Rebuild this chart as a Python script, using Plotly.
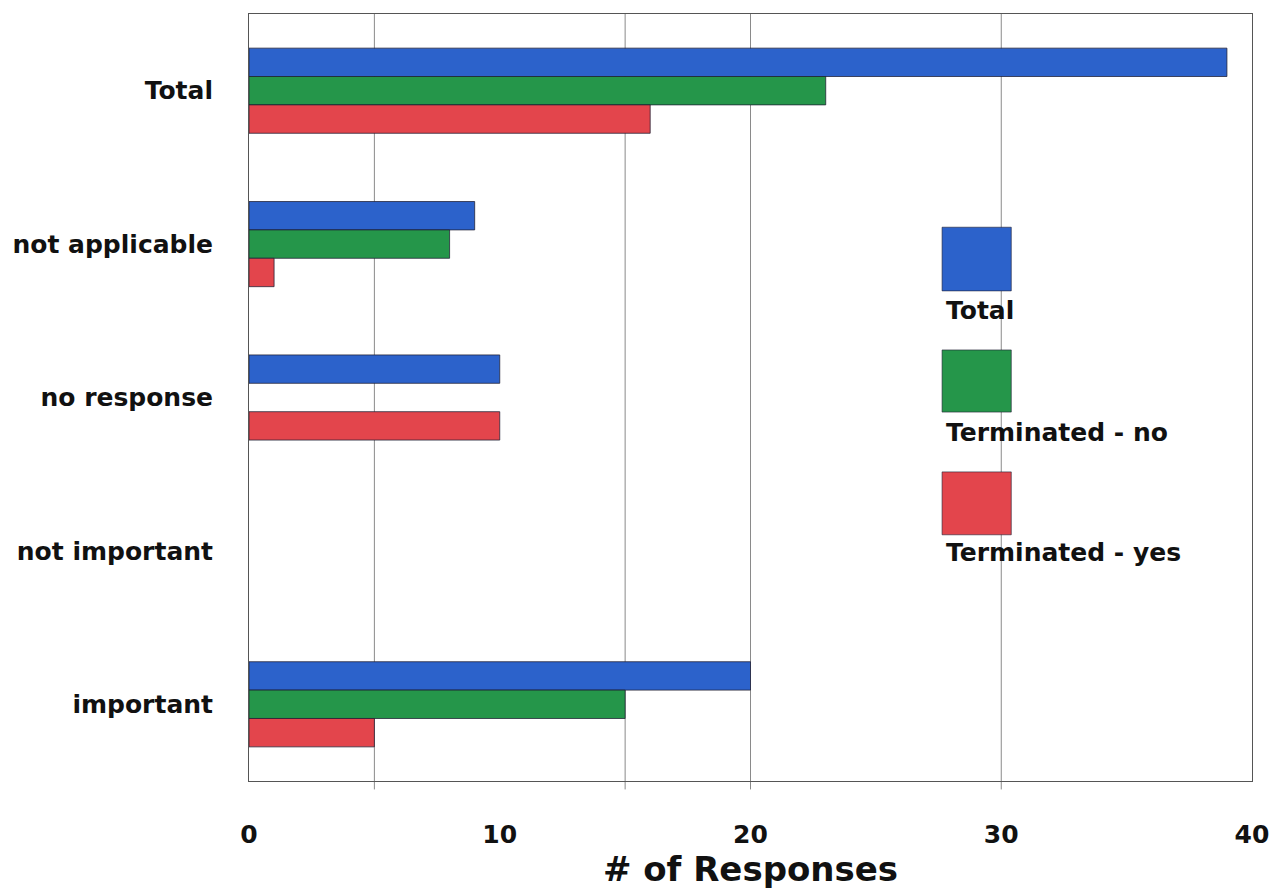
import plotly.graph_objects as go

# Response categories, listed top to bottom
categories = ["Total", "not applicable", "no response", "not important", "important"]

# Counts per series
series_names = ["Total", "Terminated - no", "Terminated - yes"]
total_counts = [39, 9, 10, 0, 20]
term_no_counts = [23, 8, 0, 0, 15]
term_yes_counts = [16, 1, 10, 0, 5]

x_ticks = [0, 10, 20, 30, 40]
grid_at = [5, 15, 20, 30]

colors = ["#2c62cb", "#25964a", "#e3454c"]
FONT = "DejaVu Sans"
BOLD = dict(family=FONT, color="#111", weight="bold")

fig = go.Figure()
for name, vals, col in zip(series_names, [total_counts, term_no_counts, term_yes_counts], colors):
    # no outline on empty bars so nothing is drawn for zero counts
    widths = [1 if v else 0 for v in vals]
    fig.add_trace(go.Bar(
        y=categories, x=vals, name=name, orientation="h",
        marker=dict(color=col, line=dict(color="rgba(30,30,50,0.75)", width=widths)),
        showlegend=False,
    ))

# vertical grid lines with small ticks below the axis
for g in grid_at:
    fig.add_shape(type="line", xref="x", yref="paper", x0=g, x1=g, y0=-0.011, y1=1,
                  line=dict(color="#8a8a8a", width=1), layer="below")

# legend drawn as swatches with their labels underneath
sw_x0, sw_x1 = 0.691, 0.760
swatch_rows = [(0.639, 0.722, 0.614), (0.481, 0.562, 0.455), (0.321, 0.403, 0.298)]
for name, col, (y0, y1, ty) in zip(series_names, colors, swatch_rows):
    fig.add_shape(type="rect", xref="paper", yref="paper", x0=sw_x0, x1=sw_x1, y0=y0, y1=y1,
                  fillcolor=col, line=dict(color="rgba(30,30,50,0.6)", width=1))
    fig.add_annotation(xref="paper", yref="paper", x=0.693, y=ty, text=name,
                       showarrow=False, xanchor="left", yanchor="middle",
                       font=dict(BOLD, size=25))

fig.update_layout(
    width=1269, height=894,
    margin=dict(l=249, r=17, t=14, b=113),
    paper_bgcolor="white", plot_bgcolor="white",
    barmode="group", bargap=0.445, bargroupgap=0,
    font=dict(family=FONT, color="#111"),
    xaxis=dict(
        range=[0, 40], tickvals=x_ticks, ticks="", showgrid=False, zeroline=False,
        showline=True, linecolor="#555", linewidth=1, mirror=True, automargin=False,
        tickfont=dict(BOLD, size=25), ticklabeloverflow="allow",
        ticklabelstandoff=31,
        title=dict(text="# of Responses", font=dict(BOLD, size=34), standoff=8),
    ),
    yaxis=dict(
        categoryorder="array", categoryarray=categories, autorange="reversed",
        ticks="", showgrid=False, zeroline=False,
        showline=True, linecolor="#555", linewidth=1, mirror=True, automargin=False,
        tickfont=dict(BOLD, size=25),
        ticklabelstandoff=30,
    ),
)

fig.write_html("out.html")
